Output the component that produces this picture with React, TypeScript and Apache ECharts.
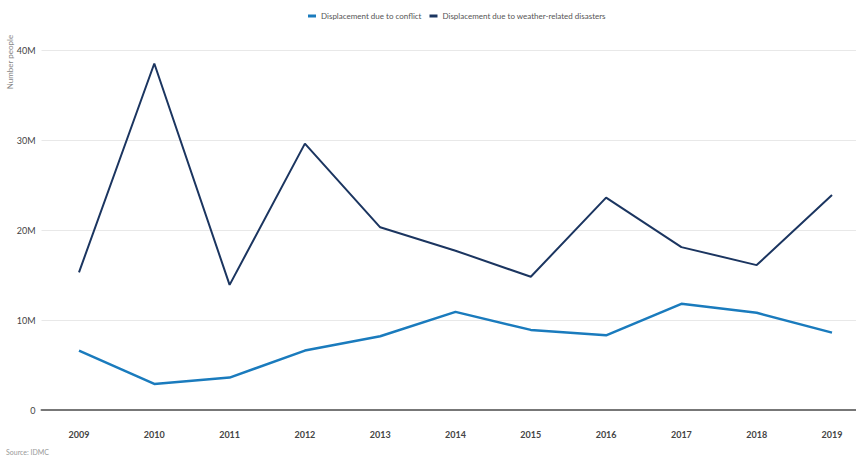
import React, { useEffect, useRef } from "react";
import * as echarts from "echarts";

const years = ["2009", "2010", "2011", "2012", "2013", "2014", "2015", "2016", "2017", "2018", "2019"];
const conflict = [6.6, 2.9, 3.6, 6.6, 8.2, 10.9, 8.9, 8.3, 11.8, 10.8, 8.6];
const weather = [15.3, 38.5, 13.9, 29.6, 20.3, 17.7, 14.8, 23.6, 18.1, 16.1, 23.9];
const seriesNames = ["Displacement due to conflict", "Displacement due to weather-related disasters"];
const yTicks = { min: 0, max: 40, interval: 10 };

export default function App() {
  const ref = useRef<HTMLDivElement>(null);
  useEffect(() => {
    const chart = echarts.init(ref.current!, null, { renderer: "svg" });
    chart.setOption({
      animation: false,
      backgroundColor: "#ffffff",
      textStyle: { fontFamily: "Lato" },
      legend: {
        top: 7,
        left: 303,
        itemWidth: 8,
        itemHeight: 3,
        itemGap: 8,
        icon: "rect",
        textStyle: { fontSize: 8, color: "#555" },
        data: seriesNames,
      },
      grid: [
        { left: 41.5, right: 0, top: 50, height: 360 },
        { left: 79, right: 24, top: 50, height: 360 },
      ],
      xAxis: [
        {
          gridIndex: 0,
          type: "value",
          min: 0,
          max: 1,
          axisLine: { show: true, lineStyle: { color: "#777", width: 2 } },
          axisTick: { show: false },
          axisLabel: { show: false },
          splitLine: { show: false },
        },
        {
          gridIndex: 1,
          type: "category",
          data: years,
          boundaryGap: false,
          axisLine: { show: false },
          axisTick: { show: false },
          axisLabel: { fontSize: 9, color: "#444", margin: 20, fontWeight: "bold" },
        },
      ],
      yAxis: [
        {
          gridIndex: 0,
          type: "value",
          ...yTicks,
          axisLabel: {
            fontSize: 9,
            color: "#444",
            margin: 6,
            formatter: (v: number) => (v === 0 ? "0" : v + "M"),
          },
          axisLine: { show: false },
          axisTick: { show: false },
          splitLine: { lineStyle: { color: "#e8e8e8", width: 1 } },
        },
        {
          gridIndex: 1,
          type: "value",
          ...yTicks,
          axisLabel: { show: false },
          axisLine: { show: false },
          axisTick: { show: false },
          splitLine: { show: false },
        },
      ],
      series: [
        {
          name: seriesNames[0],
          type: "line",
          xAxisIndex: 1,
          yAxisIndex: 1,
          data: conflict,
          symbol: "none",
          lineStyle: { color: "#1a7bbd", width: 2.5 },
          itemStyle: { color: "#1a7bbd" },
        },
        {
          name: seriesNames[1],
          type: "line",
          xAxisIndex: 1,
          yAxisIndex: 1,
          data: weather,
          symbol: "none",
          lineStyle: { color: "#1b3560", width: 2 },
          itemStyle: { color: "#1b3560" },
        },
      ],
      graphic: [
        {
          type: "text",
          x: 10,
          y: 62,
          rotation: Math.PI / 2,
          style: {
            text: "Number people",
            fontSize: 8,
            fill: "#888",
            fontFamily: "Lato",
            align: "center",
            verticalAlign: "middle",
          },
        },
        {
          type: "text",
          left: 6,
          top: 448,
          style: { text: "Source: IDMC", fontSize: 7, fill: "#999", fontFamily: "Lato" },
        },
      ],
    });
    return () => chart.dispose();
  }, []);
  return <div ref={ref} style={{ width: 856, height: 463, position: "absolute", left: 0, top: 0 }} />;
}
